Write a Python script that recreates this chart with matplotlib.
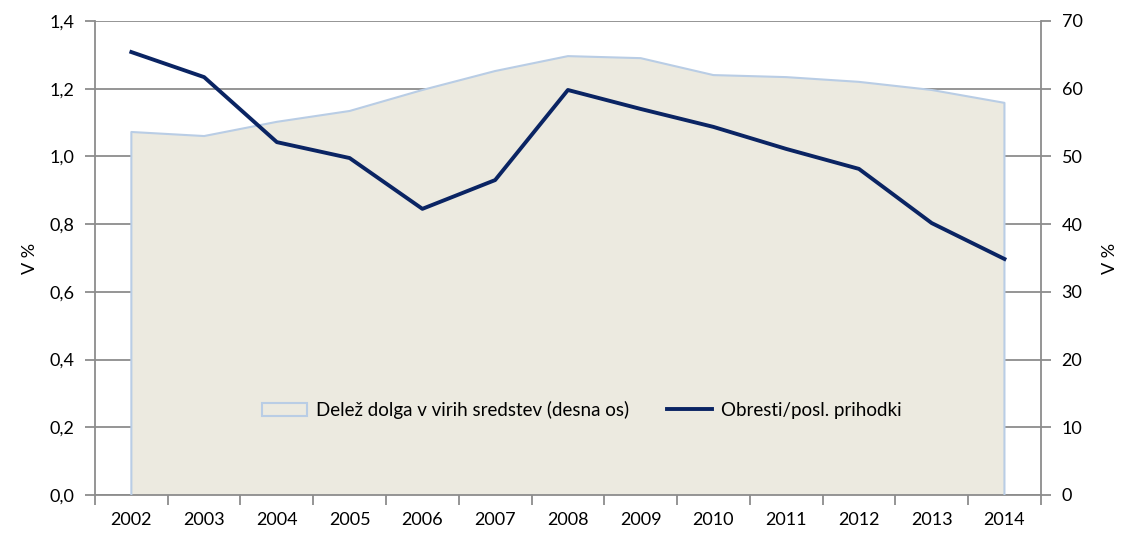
import matplotlib.pyplot as plt
from matplotlib.patches import Patch
from matplotlib.lines import Line2D

years = ['2002', '2003', '2004', '2005', '2006', '2007', '2008',
         '2009', '2010', '2011', '2012', '2013', '2014']
delez_dolga = [53.6, 53.0, 55.1, 56.7, 59.8, 62.6, 64.8,
               64.5, 62.0, 61.7, 61.0, 59.8, 57.9]
obresti = [1.308, 1.234, 1.042, 0.995, 0.845, 0.930, 1.196,
           1.140, 1.087, 1.022, 0.963, 0.803, 0.697]

left_ticks = [0.0, 0.2, 0.4, 0.6, 0.8, 1.0, 1.2, 1.4]
right_ticks = [0, 10, 20, 30, 40, 50, 60, 70]

plt.rcParams['font.family'] = ['Lato', 'DejaVu Sans']
plt.rcParams['font.size'] = 13

grey = '#8c8c8c'
fill_col = '#ECEAE0'
edge_col = '#B9CDE5'
line_col = '#0A2463'

fig = plt.figure(figsize=(11.24, 5.36), dpi=100)
ax = fig.add_axes([0.0845, 0.0765, 0.8415, 0.8845])
ax2 = ax.twinx()
x = list(range(len(years)))

# area on right axis (drawn first, behind the line)
ax.fill_between(x, 0, delez_dolga, facecolor=fill_col, edgecolor='none', zorder=2)
ax.plot([x[0]] + x + [x[-1]], [0] + delez_dolga + [0], color=edge_col, lw=1.5, zorder=3)
ax.set_ylim(0, 70)
ax.set_xlim(-0.5, len(years) - 0.5)
ax.yaxis.tick_right()
ax.yaxis.set_label_position('right')
ax.set_yticks(right_ticks)
ax.set_yticklabels([str(v) for v in right_ticks])
ax.set_ylabel('V %', labelpad=14)
ax.grid(axis='y', color=grey, lw=1.3, zorder=0)
ax.set_axisbelow(True)

ax.set_xticks(x)
ax.set_xticklabels(years)
ax.set_xticks([i - 0.5 for i in range(len(years) + 1)], minor=True)
ax.tick_params(axis='x', which='major', length=0, pad=12)
ax.tick_params(axis='x', which='minor', length=7, color=grey, width=1.3)
ax.tick_params(axis='y', length=7, color=grey, width=1.3, pad=8)

for s in ['left', 'right', 'bottom']:
    ax.spines[s].set_color(grey)
    ax.spines[s].set_linewidth(1.3)
ax.spines['top'].set_visible(False)

# line on left axis
ax2.plot(x, obresti, color=line_col, lw=2.8, zorder=5)
ax2.set_ylim(0, 1.4)
ax2.yaxis.tick_left()
ax2.yaxis.set_label_position('left')
ax2.set_yticks(left_ticks)
ax2.set_yticklabels([f'{v:.1f}'.replace('.', ',') for v in left_ticks])
ax2.set_ylabel('V %', labelpad=8)
ax2.tick_params(axis='y', length=7, color=grey, width=1.3, pad=8)
for s in ['top', 'right', 'bottom', 'left']:
    ax2.spines[s].set_visible(False)

handles = [Patch(facecolor=fill_col, edgecolor=edge_col, lw=1.5),
           Line2D([0], [0], color=line_col, lw=2.8)]
labels = ['Delež dolga v virih sredstev (desna os)', 'Obresti/posl. prihodki']
ax2.legend(handles, labels, loc='center', bbox_to_anchor=(0.515, 0.18),
           ncol=2, frameon=False, fontsize=13.5, handlelength=2.4,
           handletextpad=0.5, columnspacing=2.0)

fig.savefig('out.png', dpi=100)
